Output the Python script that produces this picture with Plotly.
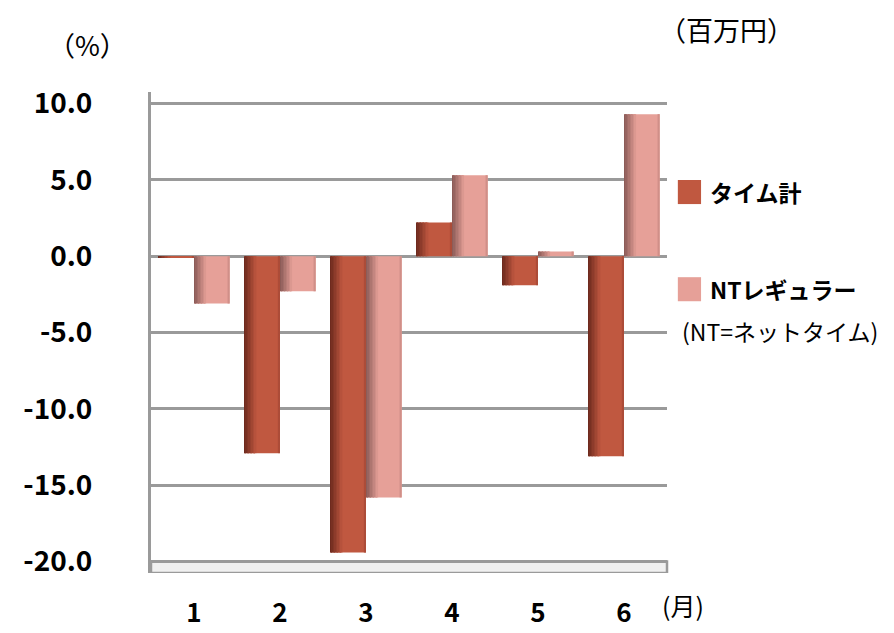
import plotly.graph_objects as go

months = ["1", "2", "3", "4", "5", "6"]
time_total = [-0.1, -12.9, -19.4, 2.2, -1.9, -13.1]
nt_regular = [-3.1, -2.3, -15.8, 5.3, 0.3, 9.3]
y_ticks = [10, 5, 0, -5, -10, -15, -20]
y_tick_text = ["10.0", "5.0", "0.0", "-5.0", "-10.0", "-15.0", "-20.0"]

c_time = (192, 88, 64)
c_time_dark = (110, 42, 30)
c_nt = (230, 160, 152)
c_nt_dark = (140, 92, 88)
grid = "#9A9A9A"
FONT = "Noto Sans CJK JP"

xpos = list(range(len(months)))
BW = 0.415  # width of one bar


def rgb(c):
    return "rgb(%d,%d,%d)" % c


def mix(a, b, t):
    return tuple(int(round(a[i] * (1 - t) + b[i] * t)) for i in range(3))


fig = go.Figure()


def add_series(vals, name, base, dark, offset):
    fig.add_trace(go.Bar(x=xpos, y=vals, name=name, width=BW, offset=offset,
                         marker=dict(color=rgb(base), line=dict(width=0)), hoverinfo="y+name"))
    n = 8
    sw = BW * 0.34 / n
    for k in range(n):
        t = k / n
        col = mix(dark, base, t)
        fig.add_trace(go.Bar(x=xpos, y=vals, width=sw, offset=offset + k * sw,
                             marker=dict(color=rgb(col), line=dict(width=0)),
                             showlegend=False, hoverinfo="skip"))
    rw = BW * 0.06
    fig.add_trace(go.Bar(x=xpos, y=vals, width=rw, offset=offset + BW - rw,
                         marker=dict(color=rgb(mix(base, dark, 0.25)), line=dict(width=0)),
                         showlegend=False, hoverinfo="skip"))


add_series(time_total, "タイム計", c_time, c_time_dark, -BW)
add_series(nt_regular, "NTレギュラー", c_nt, c_nt_dark, 0.0)

# floor of the 3D box and top edge
fig.add_shape(type="rect", xref="paper", yref="y", x0=0.0, x1=1.0, y0=-20.75, y1=-20.0,
              fillcolor="#F0F0F0", line=dict(color=grid, width=2.5), layer="below")
fig.add_shape(type="line", xref="paper", yref="y", x0=0.0, x1=1.0, y0=10, y1=10,
              line=dict(color=grid, width=3), layer="below")

fig.update_layout(
    width=894, height=633,
    margin=dict(l=151, r=227, t=92, b=60),
    paper_bgcolor="white", plot_bgcolor="white",
    barmode="overlay",
    font=dict(family=FONT, color="black"),
    showlegend=False,
    xaxis=dict(range=[-0.5, 5.5], tickvals=xpos, ticktext=months, showgrid=False, showline=False,
               zeroline=False, ticks="", automargin=False,
               tickfont=dict(size=26, family=FONT, weight="bold"), ticklabelstandoff=22),
    yaxis=dict(range=[-20.75, 10.75], tickvals=y_ticks, ticktext=y_tick_text, showgrid=True, gridcolor=grid,
               gridwidth=3, zeroline=True, zerolinecolor=grid, zerolinewidth=3,
               showline=True, linecolor=grid, linewidth=3, automargin=False,
               tickfont=dict(size=28, family=FONT, weight="bold"), ticklabelstandoff=50),
)

# legend drawn as annotations with squares
fig.add_shape(type="rect", xref="paper", yref="paper", x0=1.021, x1=1.066, y0=0.817, y1=0.767, fillcolor=rgb(c_time), line=dict(width=0))
fig.add_shape(type="rect", xref="paper", yref="paper", x0=1.021, x1=1.066, y0=0.615, y1=0.565, fillcolor=rgb(c_nt), line=dict(width=0))
fig.add_annotation(text="<b>タイム計</b>", xref="paper", yref="paper", x=1.08, y=0.793, xanchor="left", yanchor="middle", showarrow=False, font=dict(size=23))
fig.add_annotation(text="<b>NTレギュラー</b>", xref="paper", yref="paper", x=1.08, y=0.59, xanchor="left", yanchor="middle", showarrow=False, font=dict(size=23))
fig.add_annotation(text="(NT=ネットタイム)", xref="paper", yref="paper", x=1.026, y=0.503, xanchor="left", yanchor="middle", showarrow=False, font=dict(size=23))

fig.add_annotation(text="（%）", xref="paper", yref="paper", x=-0.124, y=1.098, xanchor="center", yanchor="middle", showarrow=False, font=dict(size=27))
fig.add_annotation(text="（百万円）", xref="paper", yref="paper", x=1.116, y=1.129, xanchor="center", yanchor="middle", showarrow=False, font=dict(size=27))
fig.add_annotation(text="(月)", xref="paper", yref="paper", x=0.986, y=-0.067, xanchor="left", yanchor="middle", showarrow=False, font=dict(size=25))

fig.write_html("out.html")
